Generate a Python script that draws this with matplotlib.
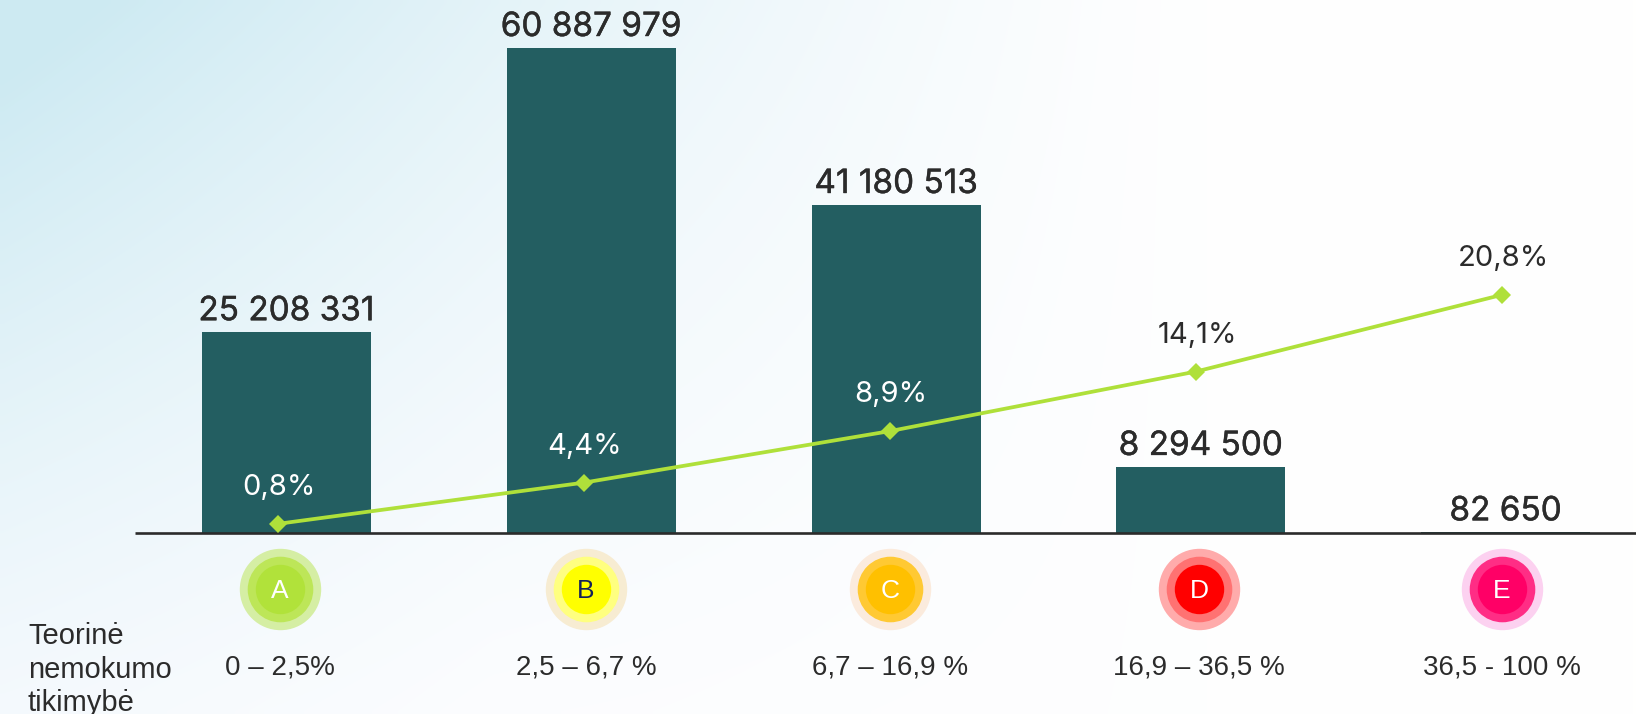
"""Paskolų portfelis pagal rizikos klasę: stulpeliai ir nemokumo lygio linija."""

import matplotlib
matplotlib.use("Agg")
import matplotlib.patheffects as pe
import matplotlib.pyplot as plt
import numpy as np

W_PX, H_PX = 1636, 714
DPI = 100

CLASSES = ["A", "B", "C", "D", "E"]
AMOUNTS = [25208331, 60887979, 41180513, 8294500, 82650]
AMOUNT_LABELS = ["25 208 331", "60 887 979", "41 180 513", "8 294 500", "82 650"]
DEFAULT_RATE = [0.8, 4.4, 8.9, 14.1, 20.8]
RATE_LABELS = ["0,8%", "4,4%", "8,9%", "14,1%", "20,8%"]
RATE_LABEL_COLORS = ["white", "white", "white", "#2b2b2b", "#2b2b2b"]
RANGES = ["0 – 2,5%", "2,5 – 6,7 %", "6,7 – 16,9 %", "16,9 – 36,5 %", "36,5 - 100 %"]
BADGE_COLORS = [
    ("#d5eea4", "#bde658", "#b1e23a"),
    ("#f7ecd2", "#ffff80", "#ffff00"),
    ("#fbebdd", "#ffc933", "#ffc000"),
    ("#ffabab", "#ff7272", "#ff0000"),
    ("#fcd1f0", "#ff2d85", "#ff0066"),
]
BADGE_TEXT = ["white", "#14215a", "white", "white", "white"]
BADGE_NUDGE_PX = [2, 2, 0, 3, 0]

BAR_COLOR = "#235e61"
LINE_COLOR = "#afe03a"
INK = "#2b2b2b"

# pixel geometry of the picture
BASE_Y = 533
BAR_X0, BAR_DX = 286.5, 304.8
LINE_X0, LINE_DX = 278, 306
PX_PER_UNIT = 485 / 60887979
PX_PER_PCT = 11.45
BADGE_Y = 589
RANGE_Y = 667


def px2pt(px):
    return px * 72 / DPI


def overlay_axes(fig, x0, dx, y_per_px):
    ax = fig.add_axes([0, 0, 1, 1])
    ax.patch.set_visible(False)
    ax.set_xlim(-x0 / dx, (W_PX - x0) / dx)
    ax.set_ylim(-(H_PX - BASE_Y) / y_per_px, BASE_Y / y_per_px)
    ax.axis("off")
    return ax


def draw_background(fig):
    ax = fig.add_axes([0, 0, 1, 1])
    ax.axis("off")
    xx, yy = np.meshgrid(np.linspace(0, 1, 240), np.linspace(0, 1, 120))
    # light blue in the top left corner, fading out to near white
    t = np.clip(1 - xx / 0.72, 0, 1) ** 1.2 * np.clip(1 - yy / 1.05, 0, 1) ** 1.25
    t = np.clip(t + 0.12 * np.clip(1 - xx / 0.3, 0, 1), 0, 1)
    blue = np.array([0.805, 0.918, 0.95])
    white = np.stack([0.985 + 0.015 * xx, 0.988 + 0.012 * xx, 1.0 - 0.002 * xx], axis=-1)
    img = white + (blue - white) * t[..., None]
    ax.imshow(img, aspect="auto", extent=(0, 1, 1, 0), interpolation="bilinear")


def main():
    plt.rcParams["font.family"] = ["Inter", "DejaVu Sans"]
    fig = plt.figure(figsize=(W_PX / DPI, H_PX / DPI), dpi=DPI)
    draw_background(fig)

    x = np.arange(len(CLASSES))
    sans = ["Liberation Sans", "DejaVu Sans"]

    ax = overlay_axes(fig, BAR_X0, BAR_DX, PX_PER_UNIT)
    ax.bar(x, AMOUNTS, width=169 / BAR_DX, color=BAR_COLOR, zorder=2)
    ax.plot([-(BAR_X0 - 135) / BAR_DX, (W_PX - BAR_X0) / BAR_DX], [0, 0],
            color=INK, lw=1.9, zorder=3, solid_capstyle="butt")
    for xi, v, lab in zip(x, AMOUNTS, AMOUNT_LABELS):
        ax.annotate(lab, (xi, v), xytext=(0, px2pt(21)), textcoords="offset points",
                    ha="center", va="center", fontsize=24, color=INK, zorder=5,
                    path_effects=[pe.withStroke(linewidth=0.3, foreground=INK)])

    ax2 = overlay_axes(fig, LINE_X0, LINE_DX, PX_PER_PCT)
    ax2.plot(x, DEFAULT_RATE, color=LINE_COLOR, lw=2.7, marker="D", ms=9.6,
             mew=0, zorder=4)
    for xi, v, lab, col in zip(x, DEFAULT_RATE, RATE_LABELS, RATE_LABEL_COLORS):
        ax2.annotate(lab, (xi, v), xytext=(px2pt(1), px2pt(36.5)),
                     textcoords="offset points", ha="center", va="center",
                     fontsize=21, color=col, zorder=5)

    # class badges and PD ranges sit under the axis, in the line's x scale
    badge_y = -(BADGE_Y - BASE_Y) / PX_PER_PCT
    range_y = -(RANGE_Y - BASE_Y) / PX_PER_PCT
    for xi, nudge, cls, cols, tcol, rng in zip(x, BADGE_NUDGE_PX, CLASSES, BADGE_COLORS,
                                               BADGE_TEXT, RANGES):
        bx = xi + nudge / LINE_DX
        for r_px, col in zip((40.7, 32.8, 24.7), cols):
            ax2.scatter([bx], [badge_y], s=(2 * px2pt(r_px)) ** 2, color=col,
                        linewidths=0, zorder=4)
        ax2.text(bx, badge_y, cls, ha="center", va="center_baseline", fontsize=19,
                 color=tcol, family=sans, zorder=5)
        ax2.text(bx, range_y, rng, ha="center", va="center", fontsize=20, color=INK,
                 family=sans, zorder=5)

    for line, y_px in zip(["Teorinė", "nemokumo", "tikimybė"], (636, 670, 703)):
        fig.text(28 / W_PX, 1 - y_px / H_PX, line, ha="left", va="center", fontsize=21,
                 color=INK, family=sans)

    fig.savefig("out.png", dpi=DPI)


if __name__ == "__main__":
    main()
